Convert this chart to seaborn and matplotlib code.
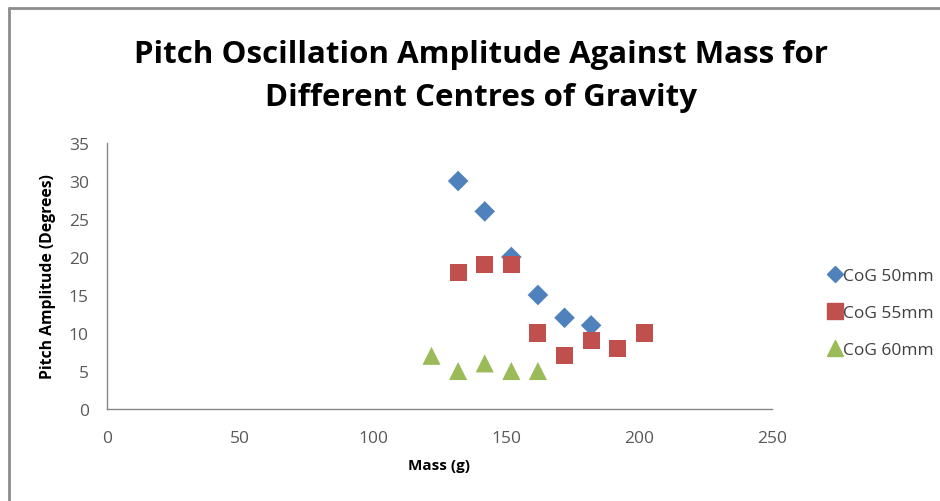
import matplotlib
matplotlib.use("Agg")
import matplotlib.pyplot as plt
import seaborn as sns
import pandas as pd
from matplotlib.lines import Line2D

sns.set_theme(style="white")
plt.rcParams['font.family'] = ['Open Sans', 'DejaVu Sans']

series_names = ["CoG 50mm", "CoG 55mm", "CoG 60mm"]
mass_50 = [132, 142, 152, 162, 172, 182]
amp_50 = [30, 26, 20, 15, 12, 11]
mass_55 = [132, 142, 152, 162, 172, 182, 192, 202]
amp_55 = [18, 19, 19, 10, 7, 9, 8, 10]
mass_60 = [122, 132, 142, 152, 162]
amp_60 = [7, 5, 6, 5, 5]
x_ticks = [0, 50, 100, 150, 200, 250]
y_ticks = [0, 5, 10, 15, 20, 25, 30, 35]

colors = ["#4F81BD", "#C0504D", "#9BBB59"]
markers = ["D", "s", "^"]

df = pd.concat([
    pd.DataFrame({"Mass": mass_50, "Amp": amp_50, "Series": series_names[0]}),
    pd.DataFrame({"Mass": mass_55, "Amp": amp_55, "Series": series_names[1]}),
    pd.DataFrame({"Mass": mass_60, "Amp": amp_60, "Series": series_names[2]}),
])

fig = plt.figure(figsize=(9.4, 5.02), dpi=100)
ax = fig.add_axes([0.1138, 0.1833, 0.7075, 0.5298])

sizes = {"CoG 50mm": 110, "CoG 55mm": 150, "CoG 60mm": 170}
for name, col, mk in zip(series_names, colors, markers):
    sub = df[df["Series"] == name]
    sns.scatterplot(data=sub, x="Mass", y="Amp", color=col, marker=mk,
                    s=sizes[name], edgecolor="none", ax=ax, legend=False)

ax.set_xlim(0, 250)
ax.set_ylim(0, 35)
ax.set_xticks(x_ticks)
ax.set_yticks(y_ticks)
ax.tick_params(axis="both", length=0, labelsize=12.5, colors="#595959")
ax.tick_params(axis="x", pad=15)
ax.tick_params(axis="y", pad=13)
for s in ["top", "right"]:
    ax.spines[s].set_visible(False)
for s in ["left", "bottom"]:
    ax.spines[s].set_color("#868686")
    ax.spines[s].set_linewidth(1.0)
ax.set_xlabel("Mass (g)", fontsize=11, fontweight="bold", color="#000000", labelpad=9)
ax.set_ylabel("Pitch Amplitude (Degrees)", fontsize=11.3, fontweight="bold", color="#000000", labelpad=9)

fig.text(0.512, 0.848, "Pitch Oscillation Amplitude Against Mass for\nDifferent Centres of Gravity",
         ha="center", va="center", fontsize=22.5, fontweight="bold", linespacing=1.55,
         color="#000000")

handles = [Line2D([], [], linestyle="none", marker=mk, color=col, markersize=ms)
           for col, mk, ms in zip(colors, markers, [8, 11, 11])]
fig.legend(handles, series_names, loc="center left", bbox_to_anchor=(0.862, 0.375),
           frameon=False, fontsize=12.5, handletextpad=0.0, labelspacing=1.2,
           handlelength=1.0, labelcolor="#404040")

# outer border lines
fig.add_artist(Line2D([0.0096, 1.0], [0.982, 0.982], color="#8c8c8c", lw=2.0, transform=fig.transFigure))
fig.add_artist(Line2D([0.0096, 0.0096], [0.0, 0.982], color="#8c8c8c", lw=2.0, transform=fig.transFigure))

fig.savefig("out.png", dpi=100, facecolor="white")
